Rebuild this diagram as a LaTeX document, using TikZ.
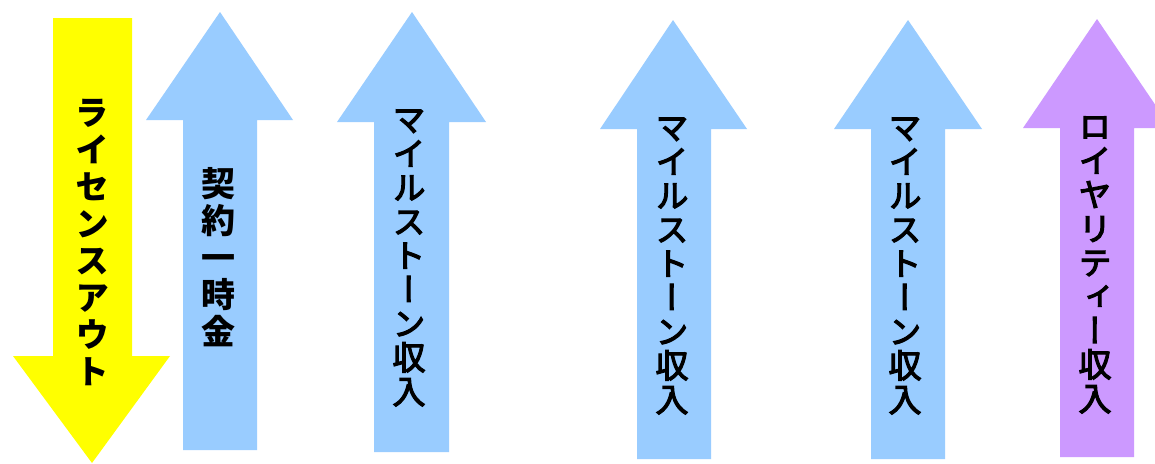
\documentclass[tikz,border=0pt]{standalone}
\usepackage{fontspec}
\newfontfamily\cjk[RawFeature=+vert]{Noto Sans CJK JP}
\newfontfamily\cjkmid[RawFeature=+vert,FakeBold=3.5]{Noto Sans CJK JP}
\definecolor{arrblue}{HTML}{99CCFF}
\definecolor{arryellow}{HTML}{FFFF00}
\definecolor{arrpurple}{HTML}{CC99FF}
\tikzset{
  vlabel/.style={align=center, inner sep=0pt, text=black,
    font=\cjk\bfseries\fontsize{34}{35}\selectfont},
  vlabelwide/.style={vlabel, font=\cjk\bfseries\fontsize{34}{37}\selectfont},
  vlabelms/.style={vlabel, font=\cjkmid\fontsize{33}{34}\selectfont},
  vlabelroy/.style={vlabel, font=\cjkmid\fontsize{33}{34}\selectfont}
}
\begin{document}
\setlength{\lineskiplimit}{-100pt}
\begin{tikzpicture}[x=1pt,y=-1pt]
\useasboundingbox (0,0) rectangle (1155,463);
\fill[white] (0,0) rectangle (1155,463);
% yellow down arrow
\fill[arryellow] (53,18) -- (132,18) -- (132,356) -- (170,356) -- (92,463) -- (13,356) -- (53,356) -- cycle;
% blue up arrows
\fill[arrblue] (220,12) -- (293,120) -- (257,120) -- (257,450) -- (183,450) -- (183,120) -- (146,120) -- cycle;
\fill[arrblue] (412,12) -- (486,122) -- (449,122) -- (449,452) -- (374,452) -- (374,122) -- (337,122) -- cycle;
\fill[arrblue] (673,20) -- (747,129) -- (711,129) -- (711,459) -- (637,459) -- (637,129) -- (600,129) -- cycle;
\fill[arrblue] (908,20) -- (982,129) -- (945,129) -- (945,459) -- (871,459) -- (871,129) -- (834,129) -- cycle;
% purple up arrow
\fill[arrpurple] (1097,19) -- (1171,128) -- (1134,128) -- (1134,457) -- (1060,457) -- (1060,128) -- (1023,128) -- cycle;
% labels
\node[vlabelwide] (t1) at (92,242) {ラ\\イ\\セ\\ン\\ス\\ア\\ウ\\ト};
\node[vlabelwide] (t2) at (218,257) {契\\約\\一\\時\\金};
\node[vlabelms] (t3) at (409,258) {マ\\イ\\ル\\ス\\ト\\ー\\ン\\収\\入};
\node[vlabelms] (t4) at (672,266) {マ\\イ\\ル\\ス\\ト\\ー\\ン\\収\\入};
\node[vlabelms] (t5) at (905,266) {マ\\イ\\ル\\ス\\ト\\ー\\ン\\収\\入};
\node[vlabelroy] (t6) at (1095,265) {ロ\\イ\\ヤ\\リ\\テ\\ィ\\ー\\収\\入};
\end{tikzpicture}
\end{document}
